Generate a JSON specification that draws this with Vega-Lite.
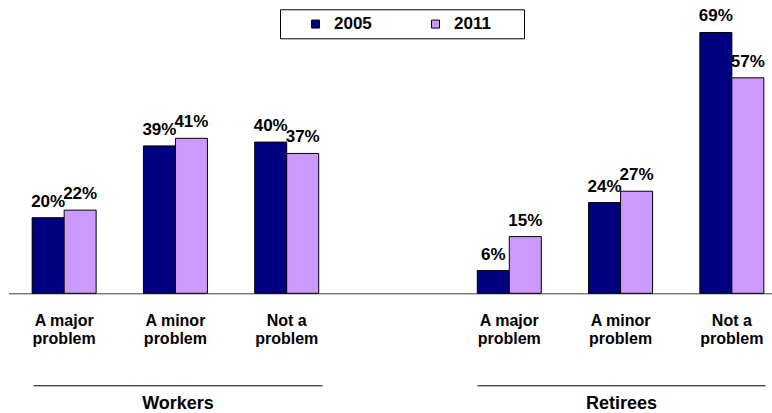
{
  "$schema": "https://vega.github.io/schema/vega-lite/v6.json",
  "autosize": "none",
  "width": 772,
  "height": 264.6,
  "padding": {"left": 0, "top": 28.7, "right": 0, "bottom": 119.7},
  "background": "white",
  "config": {"view": {"stroke": null}, "axis": {"grid": false}},
  "data": {
    "values": [
      {"group": "Workers", "slot": "Workers|A major|problem", "category": "A major problem", "year": "2005", "value": 0.20},
      {"group": "Workers", "slot": "Workers|A major|problem", "category": "A major problem", "year": "2011", "value": 0.22},
      {"group": "Workers", "slot": "Workers|A minor|problem", "category": "A minor problem", "year": "2005", "value": 0.39},
      {"group": "Workers", "slot": "Workers|A minor|problem", "category": "A minor problem", "year": "2011", "value": 0.41},
      {"group": "Workers", "slot": "Workers|Not a|problem", "category": "Not a problem", "year": "2005", "value": 0.40},
      {"group": "Workers", "slot": "Workers|Not a|problem", "category": "Not a problem", "year": "2011", "value": 0.37},
      {"group": "Retirees", "slot": "Retirees|A major|problem", "category": "A major problem", "year": "2005", "value": 0.06},
      {"group": "Retirees", "slot": "Retirees|A major|problem", "category": "A major problem", "year": "2011", "value": 0.15},
      {"group": "Retirees", "slot": "Retirees|A minor|problem", "category": "A minor problem", "year": "2005", "value": 0.24},
      {"group": "Retirees", "slot": "Retirees|A minor|problem", "category": "A minor problem", "year": "2011", "value": 0.27},
      {"group": "Retirees", "slot": "Retirees|Not a|problem", "category": "Not a problem", "year": "2005", "value": 0.69},
      {"group": "Retirees", "slot": "Retirees|Not a|problem", "category": "Not a problem", "year": "2011", "value": 0.57}
    ]
  },
  "layer": [
    {
      "layer": [
        {
          "mark": {"type": "bar", "stroke": "#000000", "strokeWidth": 1},
          "encoding": {
            "x": {
              "field": "slot", "type": "nominal",
              "scale": {
                "domain": ["Workers|A major|problem", "Workers|A minor|problem", "Workers|Not a|problem", "gap", "Retirees|A major|problem", "Retirees|A minor|problem", "Retirees|Not a|problem"],
                "range": [8.5, 787.5], "paddingInner": 0, "paddingOuter": 0
              },
              "axis": {
                "title": null, "orient": "bottom", "domain": true, "domainColor": "#404040", "domainWidth": 1,
                "ticks": false, "tickSize": 0, "labelPadding": 19, "labelAngle": 0,
                "labelFont": "Liberation Sans", "labelFontSize": 16, "labelFontWeight": "bold", "labelColor": "#000000",
                "labelLineHeight": 18, "labelOverlap": false, "labelLimit": 300,
                "labelExpr": "datum.value == 'gap' ? '' : slice(split(datum.value, '|'), 1)"
              }
            },
            "xOffset": {"field": "year", "type": "nominal", "scale": {"paddingInner": 0, "paddingOuter": 0.739}},
            "y": {"field": "value", "type": "quantitative", "scale": {"domain": [0, 0.7], "nice": false, "zero": true}, "axis": null},
            "color": {
              "field": "year", "type": "nominal",
              "scale": {"domain": ["2005", "2011"], "range": ["#000080", "#CC99FF"]},
              "legend": {
                "orient": "none", "legendX": 280, "legendY": -19.4, "direction": "horizontal",
                "title": "\u00a0", "titleOrient": "left", "titlePadding": 21, "titleFont": "Liberation Sans", "titleFontSize": 17,
                "padding": 6, "strokeColor": "#000000", "fillColor": "#ffffff",
                "symbolType": "square", "symbolSize": 64, "symbolStrokeColor": "#000000", "symbolStrokeWidth": 1,
                "labelFont": "Liberation Sans", "labelFontSize": 17, "labelFontWeight": "bold", "labelColor": "#000000",
                "labelOffset": 10, "columnPadding": 55, "gridAlign": "each",
                "labelExpr": "datum.label == '2011' ? '2011\u00a0\u00a0\u00a0\u2800' : datum.label"
              }
            }
          }
        },
        {
          "mark": {"type": "text", "baseline": "alphabetic", "dy": -11, "font": "Liberation Sans", "fontWeight": "bold", "fontSize": 17, "color": "#000000"},
          "encoding": {
            "x": {"field": "slot", "type": "nominal"},
            "xOffset": {"field": "year", "type": "nominal"},
            "y": {"field": "value", "type": "quantitative"},
            "text": {"field": "value", "type": "quantitative", "format": ".0%"}
          }
        }
      ]
    },
    {
      "transform": [{"filter": "datum.group == 'Workers'"}],
      "mark": {"type": "text", "text": ""},
      "encoding": {
        "x": {
          "field": "group", "type": "nominal",
          "scale": {"domain": ["Workers"], "range": [33, 322], "paddingInner": 0, "paddingOuter": 0},
          "axis": {
            "orient": "bottom", "offset": 92, "title": null, "domain": true, "domainColor": "#000000", "domainWidth": 1,
            "ticks": false, "tickSize": 0, "labelPadding": 9, "labelAngle": 0,
            "labelFont": "Liberation Sans", "labelFontSize": 18, "labelFontWeight": "bold", "labelColor": "#000000"
          }
        }
      }
    },
    {
      "transform": [{"filter": "datum.group == 'Retirees'"}],
      "mark": {"type": "text", "text": ""},
      "encoding": {
        "x": {
          "field": "group", "type": "nominal",
          "scale": {"domain": ["Retirees"], "range": [477, 765], "paddingInner": 0, "paddingOuter": 0},
          "axis": {
            "orient": "bottom", "offset": 92, "title": null, "domain": true, "domainColor": "#000000", "domainWidth": 1,
            "ticks": false, "tickSize": 0, "labelPadding": 9, "labelAngle": 0,
            "labelFont": "Liberation Sans", "labelFontSize": 18, "labelFontWeight": "bold", "labelColor": "#000000"
          }
        }
      }
    }
  ],
  "resolve": {"scale": {"x": "independent"}, "axis": {"x": "independent"}}
}
